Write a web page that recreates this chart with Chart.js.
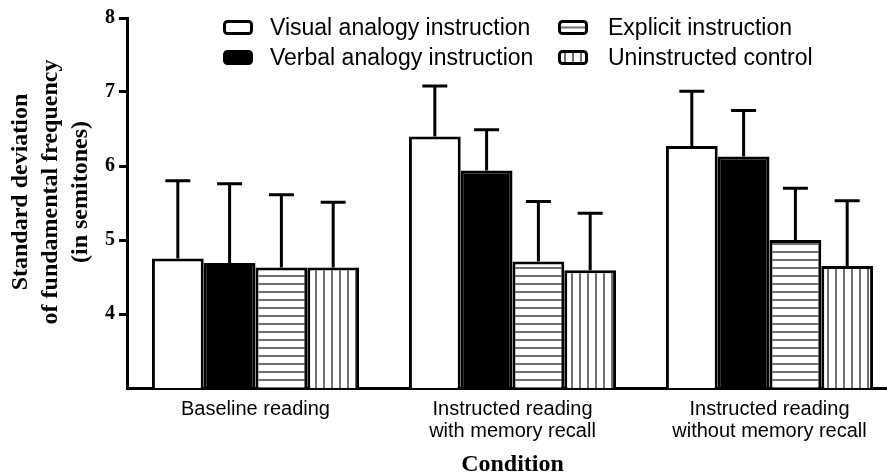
<!DOCTYPE html>
<html>
<head>
<meta charset="utf-8">
<script src="https://cdn.jsdelivr.net/npm/chart.js@4.4.0/dist/chart.umd.min.js"></script>
<style>
  html, body { margin: 0; padding: 0; background: #fff; overflow: hidden; }
  #wrap { position: relative; width: 900px; height: 475px; }
</style>
</head>
<body>
<div id="wrap"><canvas id="chart"></canvas></div>
<script>
// categories and values
const conditions = [
  ['Baseline reading'],
  ['Instructed reading', 'with memory recall'],
  ['Instructed reading', 'without memory recall']
];
const groupNames = [
  'Visual analogy instruction',
  'Verbal analogy instruction',
  'Explicit instruction',
  'Uninstructed control'
];
const visualMean = [4.75, 6.40, 6.27];
const verbalMean = [4.69, 5.94, 6.13];
const explicitMean = [4.63, 4.71, 5.00];
const controlMean = [4.63, 4.59, 4.65];
// one-sided error bars (SD)
const visualSd = [1.05, 0.68, 0.74];
const verbalSd = [1.07, 0.55, 0.62];
const explicitSd = [0.98, 0.81, 0.70];
const controlSd = [0.88, 0.77, 0.88];
const yTicks = [4, 5, 6, 7, 8];

const SANS = '"Liberation Sans", Arial, sans-serif';
const SERIF = '"Liberation Serif", "Times New Roman", serif';

const makeStripes = (dir) => {
  const c = document.createElement('canvas');
  c.width = 8;
  c.height = 8;
  const g = c.getContext('2d');
  g.fillStyle = '#fff';
  g.fillRect(0, 0, 8, 8);
  g.strokeStyle = '#222';
  g.lineWidth = 1.3;
  g.beginPath();
  if (dir === 'h') {
    g.moveTo(0, 4); g.lineTo(8, 4);
  } else {
    g.moveTo(4, 0); g.lineTo(4, 8);
  }
  g.stroke();
  return g.createPattern(c, 'repeat');
};

const hStripes = makeStripes('h');
const vStripes = makeStripes('v');

const errorBars = {
  id: 'errorBars',
  afterDatasetsDraw(chart) {
    const { ctx } = chart;
    const y = chart.scales.y;
    ctx.save();
    ctx.strokeStyle = '#000';
    ctx.lineWidth = 3;
    chart.data.datasets.forEach((ds, di) => {
      const meta = chart.getDatasetMeta(di);
      meta.data.forEach((bar, i) => {
        const top = y.getPixelForValue(ds.data[i] + ds.sd[i]);
        ctx.beginPath();
        ctx.moveTo(bar.x, bar.y);
        ctx.lineTo(bar.x, top);
        ctx.moveTo(bar.x - 12.5, top);
        ctx.lineTo(bar.x + 12.5, top);
        ctx.stroke();
      });
    });
    ctx.restore();
  }
};

const decorations = {
  id: 'decorations',
  afterDraw(chart) {
    const { ctx } = chart;
    ctx.save();
    // y axis title
    ctx.translate(51, 192);
    ctx.rotate(-Math.PI / 2);
    ctx.fillStyle = '#000';
    ctx.font = 'bold 24px ' + SERIF;
    ctx.textAlign = 'center';
    ctx.textBaseline = 'middle';
    ['Standard deviation', 'of fundamental frequency', '(in semitones)']
      .forEach((line, i) => ctx.fillText(line, 0, (i - 1) * 30));
    ctx.restore();

    // legend, two columns
    const cols = [{ box: 223, text: 270 }, { box: 558, text: 608 }];
    const rows = [27.5, 57.5];
    chart.data.datasets.forEach((ds, i) => {
      const col = cols[Math.floor(i / 2)];
      const cy = rows[i % 2];
      const w = 30;
      const h = 15;
      ctx.save();
      ctx.translate(col.box + w / 2, cy);
      ctx.beginPath();
      ctx.roundRect(-w / 2 + 1.5, -h / 2 + 1.5, w - 3, h - 3, 3);
      // shift the pattern so a stripe runs through the middle of the box
      ctx.save();
      ctx.translate(-4, -4);
      ctx.fillStyle = ds.backgroundColor;
      ctx.fill();
      ctx.restore();
      ctx.lineWidth = 3;
      ctx.strokeStyle = '#000';
      ctx.stroke();
      ctx.restore();
      ctx.save();
      ctx.fillStyle = '#000';
      ctx.font = '23px ' + SANS;
      ctx.textBaseline = 'middle';
      ctx.fillText(ds.label, col.text, cy + 1);
      ctx.restore();
    });
  }
};

const fills = ['#ffffff', '#000000', hStripes, vStripes];
const means = [visualMean, verbalMean, explicitMean, controlMean];
const sds = [visualSd, verbalSd, explicitSd, controlSd];

const chart = new Chart(document.getElementById('chart'), {
  type: 'bar',
  data: {
    labels: conditions,
    datasets: groupNames.map((name, i) => ({
      label: name,
      data: means[i],
      sd: sds[i],
      backgroundColor: fills[i],
      borderColor: '#000',
      borderWidth: 3,
      borderSkipped: 'start',
      categoryPercentage: 0.806,
      barPercentage: 1.0
    }))
  },
  options: {
    responsive: true,
    maintainAspectRatio: false,
    animation: false,
    layout: { padding: { top: 18, left: 0, right: 2, bottom: 0 } },
    plugins: {
      legend: { display: false },
      tooltip: { enabled: false }
    },
    scales: {
      x: {
        grid: { display: false, drawTicks: false },
        border: { display: true, color: '#000', width: 3 },
        ticks: {
          color: '#000',
          font: { family: SANS, size: 20, lineHeight: 1.1 },
          padding: 10,
          maxRotation: 0,
          autoSkip: false
        },
        title: {
          display: true,
          text: 'Condition',
          color: '#000',
          font: { family: SERIF, size: 24, weight: 'bold', lineHeight: 0.85 },
          padding: { top: 0, bottom: 0 }
        },
        afterFit: (s) => { s.height = 87; }
      },
      y: {
        min: 3,
        max: 8,
        afterBuildTicks: (s) => { s.ticks = [3, ...yTicks].map(v => ({ value: v })); },
        grid: {
          display: true,
          drawOnChartArea: false,
          drawTicks: true,
          tickLength: 8,
          lineWidth: 3,
          color: (c) => (c.tick && c.tick.value === 3 ? 'rgba(0,0,0,0)' : '#000')
        },
        border: { display: true, color: '#000', width: 3 },
        ticks: {
          color: '#000',
          font: { family: SERIF, size: 20, weight: 'bold' },
          padding: 4,
          callback: (v) => (v === 3 ? '' : v)
        },
        afterFit: (s) => { s.width = 127; }
      }
    }
  },
  plugins: [errorBars, decorations]
});
</script>
</body>
</html>
